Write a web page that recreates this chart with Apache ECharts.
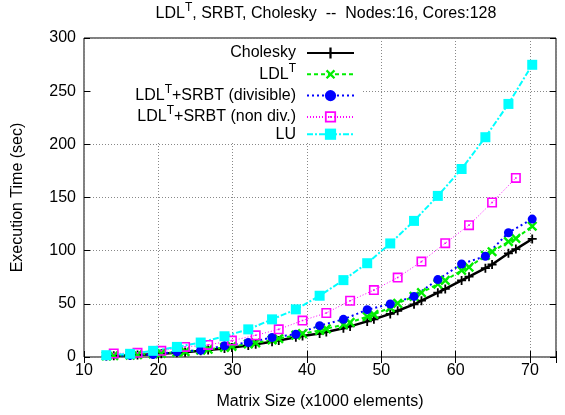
<!DOCTYPE html>
<html>
<head>
<meta charset="utf-8">
<script src="https://cdn.jsdelivr.net/npm/echarts@6/dist/echarts.min.js"></script>
<style>
  html, body { margin: 0; padding: 0; background: #fff; }
  #chart { width: 565px; height: 415px; }
</style>
</head>
<body>
<div id="chart"></div>
<script>
// matrix sizes (x1000 elements)
const xDivisible = [13.0, 16.2, 19.3, 22.5, 25.7, 28.9, 32.1, 35.3, 38.5, 41.7, 44.9, 48.1, 51.2, 54.4, 57.6, 60.8, 64.0, 67.1, 70.3]
const xNonDiv = [14.0, 17.2, 20.4, 23.6, 26.7, 29.9, 33.1, 36.2, 39.4, 42.6, 45.8, 49.0, 52.2, 55.4, 58.6, 61.8, 64.9, 68.1]
const xAll = [...xDivisible, ...xNonDiv].sort((a, b) => a - b)

// execution time (sec)
const cholesky = [1.0, 1.2, 1.6, 1.9, 2.6, 3.0, 3.9, 4.5, 5.8, 6.5, 8.0, 8.9, 10.9, 12.0, 14.3, 15.5, 18.5, 19.8, 22.0, 23.5, 27.0, 28.8, 33.5, 35.5, 40.5, 43.5, 49.5, 53.0, 60.5, 64.0, 72.0, 75.5, 83.5, 87.0, 97.5, 101.5, 111.0]
const ldlt = [1.1, 1.3, 1.8, 2.1, 2.9, 3.4, 4.4, 5.1, 6.5, 7.3, 9.0, 10.0, 12.2, 13.3, 16.0, 17.3, 20.5, 22.0, 25.0, 26.5, 30.5, 32.5, 38.0, 40.0, 46.5, 50.5, 57.0, 60.5, 68.5, 72.0, 81.5, 84.5, 95.5, 99.0, 108.5, 111.5, 123.0]
const srbtDivisible = [1.0, 1.5, 2.3, 4.9, 6.4, 10.5, 13.6, 18.3, 21.4, 29.5, 35.4, 44.5, 49.8, 57.0, 72.8, 87.5, 94.8, 116.9, 129.7]
const srbtNonDiv = [3.3, 3.9, 5.8, 9.5, 11.4, 15.4, 20.4, 26.0, 34.3, 41.4, 52.9, 62.9, 74.7, 89.7, 107.0, 124.0, 145.3, 168.4]
const lu = [1.7, 3.0, 5.8, 9.5, 13.6, 19.5, 26.0, 35.4, 44.8, 57.6, 72.3, 88.2, 106.8, 128.0, 151.5, 176.8, 206.7, 238.0, 274.8]

const xTicks = [10, 20, 30, 40, 50, 60, 70]
const yTicks = [0, 50, 100, 150, 200, 250, 300]
const xMax = 73.5

const pair = (xs, ys) => xs.map((x, i) => [x, ys[i]])

const font = '"Liberation Sans", Arial, Helvetica, sans-serif'
const plusPath = 'path://M4,0H6V4H10V6H6V10H4V6H0V4H4Z'
const openBoxPath = 'path://M0,0H10V10H0Z M1.6,1.6V8.4H8.4V1.6Z M4.2,4.2H5.8V5.8H4.2Z'

const rich = {
  a: { fontSize: 16, fontFamily: font, fontWeight: 'normal', color: '#000', lineHeight: 24 },
  s: { fontSize: 12, fontFamily: font, fontWeight: 'normal', color: '#000', verticalAlign: 'top' }
}

const legendText = {
  'Cholesky': '{a|Cholesky}',
  'LDLT': '{a|LDL}{s|T}',
  'SRBT div': '{a|LDL}{s|T}{a|+SRBT (divisible)}',
  'SRBT nondiv': '{a|LDL}{s|T}{a|+SRBT (non div.)}',
  'LU': '{a|LU}'
}

const chart = echarts.init(document.getElementById('chart'))

// tick-only axes drawn above the key box, like gnuplot's mirrored ticks
const tickOnly = {
  axisLine: { show: false },
  axisLabel: { show: false },
  splitLine: { show: false },
  axisTick: { inside: true, length: 6, lineStyle: { color: '#000' } },
  z: 6
}

const option = {
  animation: false,
  backgroundColor: '#fff',
  textStyle: { fontFamily: font },
  title: {
    text: '{a|LDL}{s|T}{a|, SRBT, Cholesky  --  Nodes:16, Cores:128}',
    left: 326,
    textAlign: 'center',
    top: 2,
    padding: 0,
    textStyle: { fontWeight: 'normal', rich: rich }
  },
  grid: {
    left: 84, right: 9, top: 38, bottom: 57,
    show: true, borderColor: '#000', borderWidth: 1, backgroundColor: 'transparent'
  },
  legend: {
    orient: 'vertical',
    align: 'right',
    right: 203,
    top: 40,
    padding: [5, 7, 0, 44],
    itemWidth: 47,
    itemHeight: 14,
    itemGap: 1.3,
    backgroundColor: '#fff',
    selectedMode: false,
    z: 4,
    formatter: name => legendText[name],
    textStyle: { rich: rich, padding: [0, 6, 0, 0] },
    data: ['Cholesky', 'LDLT', 'SRBT div', 'SRBT nondiv', 'LU']
  },
  xAxis: [
    {
      type: 'value',
      min: xTicks[0],
      max: xMax,
      interval: xTicks[1] - xTicks[0],
      name: 'Matrix Size (x1000 elements)',
      nameLocation: 'middle',
      nameGap: 37,
      nameTextStyle: { fontSize: 16, color: '#000', fontFamily: font },
      axisLine: { show: false },
      axisTick: { inside: true, length: 6, lineStyle: { color: '#000' } },
      axisLabel: {
        fontSize: 16, color: '#000', margin: 6,
        formatter: v => xTicks.includes(v) ? String(v) : ''
      },
      splitLine: { show: true, lineStyle: { color: '#888', type: [1, 2], width: 1 } }
    },
    Object.assign({ type: 'value', position: 'top', min: xTicks[0], max: xMax, interval: xTicks[1] - xTicks[0] }, tickOnly)
  ],
  yAxis: [
    {
      type: 'value',
      min: yTicks[0],
      max: yTicks[yTicks.length - 1],
      interval: yTicks[1] - yTicks[0],
      name: 'Execution Time (sec)',
      nameLocation: 'middle',
      nameGap: 58,
      nameTextStyle: { fontSize: 16, color: '#000', fontFamily: font },
      axisLine: { show: false },
      axisTick: { show: false },
      axisLabel: { fontSize: 16, color: '#000', margin: 8 },
      splitLine: { show: true, lineStyle: { color: '#888', type: [1, 2], width: 1 } }
    },
    Object.assign({ type: 'value', position: 'left', min: yTicks[0], max: yTicks[yTicks.length - 1], interval: yTicks[1] - yTicks[0] }, tickOnly),
    Object.assign({ type: 'value', position: 'right', min: yTicks[0], max: yTicks[yTicks.length - 1], interval: yTicks[1] - yTicks[0] }, tickOnly)
  ],
  series: [
    {
      name: 'Cholesky',
      type: 'line',
      data: pair(xAll, cholesky),
      symbol: plusPath,
      symbolSize: 9,
      itemStyle: { color: '#000' },
      lineStyle: { color: '#000', width: 2.5 }
    },
    {
      name: 'LDLT',
      type: 'line',
      data: pair(xAll, ldlt),
      symbol: plusPath,
      symbolRotate: 45,
      symbolSize: 12,
      itemStyle: { color: '#00ee00' },
      lineStyle: { color: '#00ee00', width: 2, type: [4, 3] }
    },
    {
      name: 'SRBT div',
      type: 'line',
      data: pair(xDivisible, srbtDivisible),
      symbol: 'circle',
      symbolSize: 9,
      itemStyle: { color: '#0000ff' },
      lineStyle: { color: '#0000ff', width: 2, type: [2, 3] }
    },
    {
      name: 'SRBT nondiv',
      type: 'line',
      data: pair(xNonDiv, srbtNonDiv),
      symbol: openBoxPath,
      symbolSize: 10,
      itemStyle: { color: '#ff00ff' },
      lineStyle: { color: '#ff00ff', width: 1, type: [1, 2] }
    },
    {
      name: 'LU',
      type: 'line',
      data: pair(xDivisible, lu),
      symbol: 'rect',
      symbolSize: 10,
      itemStyle: { color: '#00ffff' },
      lineStyle: { color: '#00ffff', width: 2, type: [6, 2, 2, 2] }
    }
  ]
}

chart.setOption(option)
</script>
</body>
</html>
